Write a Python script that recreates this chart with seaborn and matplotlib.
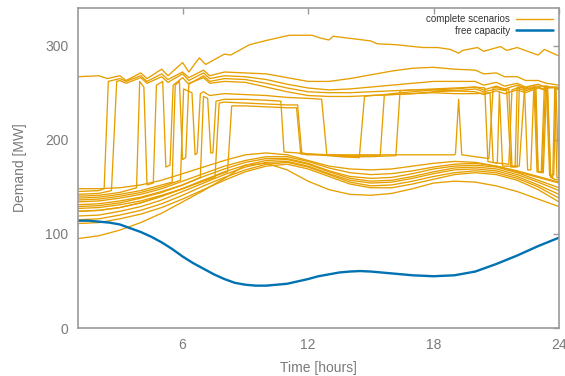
import matplotlib
matplotlib.use("Agg")
import matplotlib.pyplot as plt
import seaborn as sns
import pandas as pd
from matplotlib.lines import Line2D

# ---------------- data ----------------
hours = list(range(1, 25))
cap_time = [1, 1.5, 2, 2.5, 3, 3.5, 4, 4.5, 5, 5.5, 6, 6.5, 7, 7.5, 8, 8.5, 9, 9.5, 10, 10.5, 11, 11.5,
            12, 12.5, 13, 13.5, 14, 14.5, 15, 15.5, 16, 16.5, 17, 17.5, 18, 18.5, 19, 19.5, 20, 20.5,
            21, 21.5, 22, 22.5, 23, 23.5, 24]
free_capacity = [114, 114, 113, 112, 110, 106, 102, 97, 91, 84, 76, 69, 63, 57, 52, 48, 46, 45, 45, 46, 47, 49.5,
                 52, 55, 57, 59, 60, 60.5, 60, 59, 58, 57, 56, 55.5, 55, 55.5, 56, 58, 60, 64,
                 68, 72.5, 77, 82, 87, 91.5, 96]

# scenarios that stay on the lower band (hourly values)
p1 = [148, 148, 149, 152, 157, 164, 171, 178, 184, 186, 184, 178, 172, 169, 168, 169, 172, 175, 177, 176, 172, 166, 160, 154]
p2 = [134, 135, 138, 142, 148, 156, 164, 172, 178, 182, 182, 177, 170, 165, 163, 164, 167, 171, 174, 175, 172, 167, 161, 155]
p3 = [129, 130, 133, 138, 144, 152, 161, 169, 176, 180, 180, 175, 167, 161, 159, 160, 164, 169, 172, 173, 171, 165, 157, 149]
p4 = [124, 125, 128, 133, 140, 148, 157, 166, 173, 178, 179, 174, 166, 159, 156, 157, 161, 166, 170, 171, 169, 163, 155, 146]
p5 = [119, 120, 124, 129, 136, 145, 154, 163, 171, 176, 177, 172, 164, 157, 154, 155, 159, 164, 168, 169, 167, 161, 152, 142]
p6 = [115, 116, 120, 125, 132, 141, 151, 160, 168, 174, 176, 171, 163, 155, 151, 152, 156, 161, 165, 167, 165, 159, 150, 138]
p7 = [111, 112, 116, 121, 128, 137, 147, 157, 166, 172, 174, 169, 161, 153, 149, 149, 153, 158, 163, 165, 163, 157, 147, 134]
p8 = [95, 98, 104, 112, 122, 134, 146, 159, 173, 175, 168, 156, 147, 142, 141, 143, 148, 154, 156, 155, 151, 145, 137, 129]

# scenarios with a complete (upper) level: explicit vertices (time, value)
top_t = [1, 2, 2.4, 3, 3.3, 4, 4.3, 5, 5.3, 6, 6.3, 6.8, 7.1, 8, 8.3, 9.2, 10.1, 11.1, 12.2, 12.6, 13.0, 13.2, 15.0,
         15.3, 16.2, 17.5, 18.2, 18.8, 19.2, 19.4, 20.1, 20.4, 21.2, 21.5, 22.0, 23.0, 23.3, 24]
top_v = [267, 268, 265, 268, 263, 271, 265, 275, 268, 282, 272, 287, 280, 291, 290, 301, 306, 311, 311, 308, 306, 310, 305,
         302, 301, 298, 298, 296, 292, 295, 298, 294, 299, 295, 298, 290, 296, 289]

s1_t = [1, 2, 2.25, 2.45, 3, 3.3, 4, 4.3, 5, 5.3, 6, 6.3, 7, 7.3, 8, 9, 10, 11, 12, 13, 14, 15, 16, 17, 18, 19, 20,
        20.4, 21, 21.4, 22, 22.4, 23, 23.4, 24]
s1_v = [145, 146, 148, 262, 265, 262, 268, 262, 270, 264, 272, 266, 274, 268, 272, 271, 270, 266, 262, 262, 265, 269,
        273, 276, 277, 275, 274, 270, 271, 267, 267, 263, 263, 260, 258]

s2_t = [1, 2, 2.6, 2.85, 3, 3.3, 4, 4.3, 5, 5.3, 6, 6.3, 7, 7.3, 8, 9, 10, 11, 12, 13, 14, 15, 16, 17, 18, 19, 20,
        20.4, 21, 21.4, 22, 22.4, 23, 23.4, 24]
s2_v = [142, 143, 146, 262, 263, 260, 266, 260, 267, 261, 270, 263, 271, 265, 268, 267, 264, 259, 255, 253, 254, 256,
        258, 260, 262, 262, 262, 258, 261, 257, 260, 256, 259, 255, 256]

s3_t = [1, 2, 3, 3.8, 3.95, 4.15, 4.3, 4.6, 4.75, 5.05, 5.2, 5.4, 5.55, 6, 6.3, 7, 7.3, 8, 9, 10, 11, 12, 13, 14, 15,
        16, 17, 18, 19, 20, 20.4, 21, 21.4, 22, 22.4, 23, 23.45, 23.6, 23.8, 24]
s3_v = [140, 141, 144, 149, 262, 256, 152, 154, 258, 262, 171, 173, 258, 266, 259, 268, 262, 265, 264, 260, 255, 251,
        250, 250, 251, 252, 253, 253, 252, 251, 248, 252, 249, 253, 250, 255, 252, 160, 158, 157]

s4_t = [1, 2, 3, 4, 5, 5.5, 5.65, 5.85, 6.0, 6.15, 6.3, 7, 7.3, 8, 9, 10, 11, 12, 13, 14, 15, 16, 17, 18, 19, 20,
        20.7, 20.85, 21.05, 21.15, 21.3, 22.1, 22.35, 22.9, 23.0, 23.25, 23.4, 23.8, 23.9, 24]
s4_v = [138, 139, 142, 146, 152, 155, 258, 262, 179, 181, 260, 266, 260, 262, 261, 256, 251, 247, 246, 246, 247, 248,
        249, 250, 249, 249, 250, 176, 175, 251, 172, 172, 254, 255, 166, 165, 255, 256, 160, 159]

s5_t = [1, 2, 3, 4, 5, 5.9, 6.05, 6.45, 6.6, 6.7, 6.85, 7, 7.3, 8, 9, 10, 11, 12, 12.65, 12.9, 13.5, 14.45, 14.7, 15,
        16, 17, 18, 19, 20, 20.4, 21, 21.5, 21.7, 21.9, 22.0, 22.35, 22.5, 22.65, 22.8, 23.45, 23.6, 23.75, 23.85, 24]
s5_v = [136, 137, 140, 144, 150, 157, 254, 250, 184, 186, 249, 251, 247, 249, 248, 247, 245, 244, 243, 184, 182, 181,
        246, 247, 248, 249, 251, 252, 254, 251, 254, 252, 171, 171, 256, 255, 168, 168, 257, 257, 162, 163, 256, 254]

s6_t = [1, 2, 3, 4, 5, 6, 6.85, 7.0, 7.2, 7.35, 7.45, 7.6, 8, 9, 10, 10.7, 10.85, 11.5, 12, 13, 14, 15, 15.45, 15.65,
        16, 17, 18, 19, 20, 20.4, 21, 21.4, 22, 22.4, 22.8, 22.95, 23.15, 23.3, 24]
s6_v = [131, 132, 135, 139, 145, 152, 160, 246, 244, 186, 186, 241, 243, 243, 242, 241, 187, 186, 185, 184, 183, 183,
        183, 248, 249, 251, 253, 254, 256, 253, 257, 254, 258, 255, 258, 166, 165, 257, 255]

s7_t = [1, 2, 3, 4, 5, 6, 7, 7.55, 7.75, 8, 9, 10, 11, 11.5, 11.7, 12, 13, 14, 15, 16, 16.2, 16.4, 17, 18, 19, 20,
        20.45, 20.6, 20.8, 21.6, 21.75, 22, 22.4, 23, 23.4, 23.55, 23.7, 23.8, 24]
s7_v = [127, 128, 131, 135, 141, 148, 156, 160, 239, 240, 239, 238, 237, 237, 186, 185, 183, 182, 182, 183, 183, 252,
        253, 254, 255, 256, 255, 177, 176, 174, 253, 255, 252, 256, 253, 162, 160, 255, 253]

s8_t = [1, 2, 3, 4, 5, 6, 7, 8, 8.15, 8.35, 9, 10, 11, 11.45, 11.65, 12, 13, 14, 15, 16, 17, 18, 19, 19.05, 19.2,
        19.35, 20, 20.65, 20.85, 21, 21.4, 21.6, 21.75, 22.0, 22.1, 22.4, 22.85, 23.0, 23.2, 23.35, 23.85, 24]
s8_v = [124, 125, 128, 133, 140, 148, 157, 165, 166, 236, 236, 235, 234, 234, 185, 184, 184, 184, 184, 184, 184, 184,
        184, 185, 243, 184, 182, 180, 255, 256, 253, 254, 172, 171, 256, 254, 256, 166, 166, 256, 255, 160]

legend_labels = ["complete scenarios", "free capacity"]
x_ticks = [6, 12, 18, 24]
y_ticks = [0, 100, 200, 300]

# ---------------- build long-form table ----------------
frames = []
for name, vals in [("p1", p1), ("p2", p2), ("p3", p3), ("p4", p4),
                   ("p5", p5), ("p6", p6), ("p7", p7), ("p8", p8)]:
    frames.append(pd.DataFrame({"time": hours, "demand": vals, "scenario": name}))
for name, t, v in [("top", top_t, top_v), ("s1", s1_t, s1_v), ("s2", s2_t, s2_v),
                   ("s3", s3_t, s3_v), ("s4", s4_t, s4_v), ("s5", s5_t, s5_v),
                   ("s6", s6_t, s6_v), ("s7", s7_t, s7_v), ("s8", s8_t, s8_v)]:
    frames.append(pd.DataFrame({"time": t, "demand": v, "scenario": name}))
scen = pd.concat(frames, ignore_index=True)
free = pd.DataFrame({"time": cap_time, "capacity": free_capacity})

# ---------------- style ----------------
sns.set_theme(style="white")
plt.rcParams["font.family"] = ["Liberation Sans", "DejaVu Sans"]

ORANGE = "#E69F00"
BLUE = "#0072B2"
GRAY = "#9a9a9a"
TXT = "#7a7a7a"

fig = plt.figure(figsize=(5.65, 3.76), dpi=100)
ax = fig.add_axes([78 / 565, 48 / 376, (559 - 78) / 565, (328 - 8) / 376])

sns.lineplot(data=scen, x="time", y="demand", units="scenario", estimator=None,
             sort=False, color=ORANGE, lw=0.95, ax=ax, legend=False)
sns.lineplot(data=free, x="time", y="capacity", color=BLUE, lw=1.7, ax=ax, legend=False)

ax.set_xlim(1, 24)
ax.set_ylim(0, 340)
ax.set_xticks(x_ticks)
ax.set_yticks(y_ticks)
ax.tick_params(direction="in", length=4, width=1, color=GRAY, labelcolor=TXT,
               labelsize=10, top=True, right=True, pad=7)
for s in ax.spines.values():
    s.set_color(GRAY)
    s.set_linewidth(1.2)
ax.set_xlabel("Time [hours]", color=TXT, fontsize=10, labelpad=6.5)
ax.set_ylabel("Demand [MW]", color=TXT, fontsize=10, labelpad=13)

handles = [Line2D([], [], color=ORANGE, lw=1.0), Line2D([], [], color=BLUE, lw=1.8)]
leg = ax.legend(handles, legend_labels, loc="upper right", markerfirst=False,
                frameon=False, fontsize=7, handlelength=3.8, labelspacing=0.15,
                borderaxespad=0.35, borderpad=0.3, handletextpad=0.6)
for t in leg.get_texts():
    t.set_color("#333333")

fig.savefig("out.png", dpi=100)
